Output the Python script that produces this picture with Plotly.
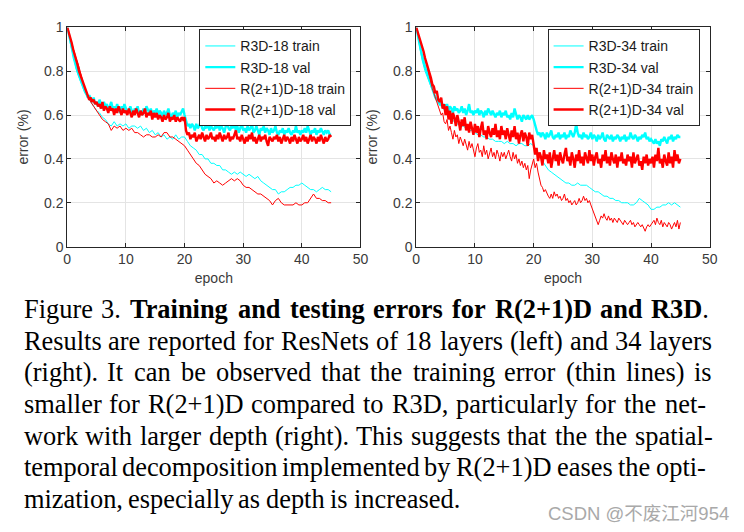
import plotly.graph_objects as go

# ---------------- data (error vs epoch) ----------------
TRAIN_STEP = 0.5    # epochs between samples of the "train" lists (except r21d34_train)
FINE_STEP = 0.25    # epochs between samples of the "val" lists and r21d34_train

r3d18_train = [1.00, 0.92, 0.86, 0.81, 0.77, 0.73, 0.70, 0.68, 0.66, 0.64, 0.62, 0.61, 0.59, 0.58, 0.56, 0.55,
               0.57, 0.55, 0.56, 0.55, 0.56, 0.54, 0.55, 0.55, 0.54, 0.55, 0.53, 0.54, 0.52, 0.53, 0.51, 0.52,
               0.50, 0.51, 0.49, 0.50, 0.49, 0.51, 0.49, 0.50, 0.50, 0.48, 0.46, 0.45, 0.44, 0.42, 0.42, 0.40,
               0.40, 0.38, 0.38, 0.37, 0.37, 0.35, 0.35, 0.34, 0.33, 0.34, 0.33, 0.34, 0.33, 0.32, 0.33, 0.32,
               0.31, 0.32, 0.30, 0.29, 0.28, 0.27, 0.26, 0.26, 0.24, 0.25, 0.25, 0.26, 0.27, 0.27, 0.28, 0.28,
               0.29, 0.28, 0.27, 0.26, 0.26, 0.25, 0.26, 0.27, 0.26, 0.26, 0.25]
r21d18_train = [1.00, 0.95, 0.90, 0.86, 0.82, 0.77, 0.72, 0.69, 0.66, 0.64, 0.62, 0.60, 0.58, 0.57, 0.56, 0.53,
                0.55, 0.54, 0.55, 0.53, 0.54, 0.53, 0.54, 0.52, 0.52, 0.51, 0.50, 0.51, 0.51, 0.50, 0.50, 0.51,
                0.50, 0.52, 0.52, 0.50, 0.50, 0.49, 0.48, 0.47, 0.46, 0.44, 0.42, 0.40, 0.38, 0.37, 0.35, 0.33,
                0.32, 0.31, 0.29, 0.30, 0.29, 0.28, 0.29, 0.30, 0.31, 0.30, 0.31, 0.30, 0.28, 0.27, 0.27, 0.26,
                0.25, 0.24, 0.24, 0.23, 0.22, 0.21, 0.19, 0.21, 0.22, 0.20, 0.19, 0.19, 0.19, 0.19, 0.20, 0.19,
                0.19, 0.20, 0.20, 0.22, 0.24, 0.22, 0.22, 0.21, 0.21, 0.20, 0.20]
r3d34_train = [1.00, 0.92, 0.85, 0.80, 0.76, 0.73, 0.70, 0.67, 0.65, 0.63, 0.62, 0.60, 0.58, 0.57, 0.56, 0.55,
               0.55, 0.54, 0.53, 0.53, 0.52, 0.51, 0.51, 0.50, 0.50, 0.49, 0.49, 0.48, 0.48, 0.48, 0.47, 0.48,
               0.47, 0.47, 0.46, 0.47, 0.47, 0.46, 0.46, 0.47, 0.46, 0.44, 0.42, 0.39, 0.37, 0.35, 0.34, 0.33,
               0.32, 0.31, 0.30, 0.29, 0.29, 0.28, 0.28, 0.29, 0.28, 0.28, 0.28, 0.27, 0.26, 0.25, 0.25, 0.24,
               0.23, 0.23, 0.22, 0.22, 0.21, 0.21, 0.20, 0.20, 0.20, 0.19, 0.19, 0.20, 0.22, 0.21, 0.20, 0.19,
               0.17, 0.17, 0.18, 0.18, 0.19, 0.19, 0.20, 0.19, 0.20, 0.19, 0.18]

r3d18_val = [1.00, 0.97, 0.94, 0.91, 0.88, 0.85, 0.83, 0.80, 0.78, 0.76, 0.74, 0.72, 0.71, 0.70, 0.68, 0.69, 0.67, 0.66, 0.68, 0.65,
             0.66, 0.64, 0.67, 0.65, 0.63, 0.66, 0.64, 0.65, 0.62, 0.64, 0.66, 0.63, 0.64, 0.62, 0.65, 0.63, 0.61, 0.64, 0.62, 0.65,
             0.63, 0.61, 0.62, 0.64, 0.62, 0.60, 0.63, 0.62, 0.64, 0.61, 0.62, 0.60, 0.63, 0.61, 0.64, 0.62, 0.61, 0.63, 0.60, 0.62,
             0.61, 0.63, 0.60, 0.62, 0.61, 0.59, 0.62, 0.60, 0.61, 0.63, 0.60, 0.59, 0.61, 0.60, 0.62, 0.59, 0.61, 0.60, 0.62, 0.63,
             0.60, 0.57, 0.55, 0.56, 0.54, 0.56, 0.55, 0.53, 0.56, 0.54, 0.55, 0.57, 0.54, 0.53, 0.55, 0.54, 0.56, 0.53, 0.55, 0.54,
             0.53, 0.55, 0.54, 0.56, 0.53, 0.55, 0.54, 0.52, 0.55, 0.57, 0.54, 0.53, 0.55, 0.54, 0.56, 0.53, 0.55, 0.52, 0.54, 0.56,
             0.53, 0.54, 0.52, 0.55, 0.53, 0.54, 0.56, 0.52, 0.53, 0.55, 0.53, 0.51, 0.54, 0.53, 0.55, 0.52, 0.54, 0.53, 0.51, 0.54,
             0.52, 0.53, 0.55, 0.52, 0.51, 0.53, 0.52, 0.54, 0.51, 0.53, 0.52, 0.54, 0.52, 0.51, 0.53, 0.52, 0.55, 0.52, 0.53, 0.51,
             0.53, 0.52, 0.54, 0.52, 0.55, 0.53, 0.51, 0.53, 0.52, 0.54, 0.51, 0.53, 0.52, 0.54, 0.52, 0.51, 0.53, 0.52, 0.53, 0.51,
             0.51]
r21d18_val = [1.00, 0.98, 0.95, 0.93, 0.90, 0.88, 0.86, 0.83, 0.80, 0.78, 0.76, 0.74, 0.72, 0.70, 0.69, 0.67, 0.68, 0.66, 0.67, 0.65,
              0.66, 0.64, 0.65, 0.63, 0.66, 0.62, 0.64, 0.63, 0.61, 0.64, 0.62, 0.63, 0.60, 0.63, 0.61, 0.64, 0.62, 0.60, 0.63, 0.61,
              0.62, 0.60, 0.63, 0.61, 0.59, 0.62, 0.60, 0.63, 0.61, 0.59, 0.62, 0.60, 0.61, 0.63, 0.59, 0.61, 0.60, 0.62, 0.58, 0.61,
              0.59, 0.61, 0.58, 0.60, 0.59, 0.57, 0.60, 0.58, 0.59, 0.61, 0.57, 0.59, 0.58, 0.60, 0.57, 0.59, 0.58, 0.57, 0.59, 0.58,
              0.59, 0.53, 0.51, 0.52, 0.49, 0.51, 0.50, 0.52, 0.48, 0.50, 0.51, 0.49, 0.52, 0.50, 0.48, 0.51, 0.49, 0.50, 0.52, 0.49,
              0.50, 0.48, 0.51, 0.49, 0.52, 0.50, 0.48, 0.51, 0.49, 0.50, 0.52, 0.48, 0.50, 0.49, 0.51, 0.53, 0.49, 0.50, 0.48, 0.51,
              0.49, 0.47, 0.50, 0.48, 0.51, 0.49, 0.52, 0.48, 0.50, 0.47, 0.49, 0.51, 0.48, 0.50, 0.49, 0.51, 0.48, 0.46, 0.50, 0.49,
              0.48, 0.50, 0.49, 0.51, 0.48, 0.50, 0.47, 0.49, 0.51, 0.48, 0.50, 0.49, 0.47, 0.50, 0.48, 0.51, 0.49, 0.47, 0.50, 0.48,
              0.49, 0.51, 0.48, 0.50, 0.47, 0.49, 0.51, 0.48, 0.50, 0.49, 0.47, 0.50, 0.48, 0.51, 0.49, 0.47, 0.50, 0.48, 0.49, 0.51,
              0.50]
r3d34_val = [1.00, 0.96, 0.93, 0.90, 0.87, 0.84, 0.82, 0.80, 0.78, 0.75, 0.73, 0.71, 0.70, 0.68, 0.67, 0.66, 0.65, 0.66, 0.64, 0.65,
             0.63, 0.65, 0.62, 0.64, 0.63, 0.61, 0.64, 0.62, 0.63, 0.61, 0.62, 0.64, 0.61, 0.63, 0.60, 0.62, 0.65, 0.61, 0.62, 0.60,
             0.62, 0.61, 0.63, 0.60, 0.62, 0.61, 0.59, 0.62, 0.60, 0.63, 0.61, 0.60, 0.62, 0.60, 0.59, 0.61, 0.60, 0.62, 0.59, 0.61,
             0.60, 0.62, 0.59, 0.60, 0.58, 0.61, 0.59, 0.63, 0.60, 0.58, 0.60, 0.59, 0.57, 0.60, 0.59, 0.58, 0.60, 0.58, 0.59, 0.60,
             0.58, 0.55, 0.53, 0.51, 0.52, 0.50, 0.52, 0.51, 0.49, 0.52, 0.50, 0.51, 0.53, 0.50, 0.49, 0.51, 0.50, 0.52, 0.49, 0.51,
             0.50, 0.52, 0.49, 0.51, 0.50, 0.53, 0.51, 0.50, 0.52, 0.56, 0.52, 0.50, 0.51, 0.49, 0.52, 0.50, 0.51, 0.49, 0.50, 0.52,
             0.49, 0.51, 0.50, 0.48, 0.51, 0.49, 0.50, 0.52, 0.49, 0.48, 0.51, 0.50, 0.49, 0.51, 0.48, 0.50, 0.49, 0.51, 0.50, 0.48,
             0.50, 0.49, 0.51, 0.48, 0.50, 0.49, 0.52, 0.50, 0.49, 0.51, 0.50, 0.48, 0.50, 0.49, 0.51, 0.50, 0.52, 0.49, 0.50, 0.48,
             0.49, 0.48, 0.47, 0.49, 0.47, 0.48, 0.46, 0.49, 0.48, 0.50, 0.48, 0.47, 0.50, 0.49, 0.51, 0.48, 0.50, 0.49, 0.51, 0.50,
             0.50]
r21d34_val = [1.00, 0.98, 0.96, 0.93, 0.91, 0.89, 0.86, 0.84, 0.82, 0.79, 0.77, 0.74, 0.73, 0.70, 0.71, 0.67, 0.66, 0.68, 0.63, 0.65,
              0.60, 0.64, 0.58, 0.62, 0.56, 0.61, 0.59, 0.55, 0.60, 0.57, 0.53, 0.58, 0.55, 0.59, 0.53, 0.56, 0.52, 0.57, 0.54, 0.51,
              0.56, 0.52, 0.55, 0.50, 0.54, 0.57, 0.51, 0.53, 0.49, 0.55, 0.52, 0.50, 0.54, 0.51, 0.56, 0.50, 0.53, 0.49, 0.55, 0.51,
              0.53, 0.49, 0.54, 0.51, 0.48, 0.53, 0.50, 0.55, 0.49, 0.52, 0.47, 0.51, 0.53, 0.48, 0.52, 0.50, 0.46, 0.52, 0.49, 0.51,
              0.47, 0.42, 0.45, 0.39, 0.43, 0.41, 0.37, 0.44, 0.40, 0.42, 0.38, 0.43, 0.36, 0.41, 0.44, 0.39, 0.42, 0.37, 0.43, 0.40,
              0.38, 0.42, 0.45, 0.39, 0.41, 0.37, 0.43, 0.40, 0.36, 0.42, 0.39, 0.44, 0.38, 0.41, 0.37, 0.43, 0.40, 0.38, 0.44, 0.39,
              0.42, 0.37, 0.41, 0.43, 0.38, 0.40, 0.36, 0.42, 0.39, 0.44, 0.38, 0.41, 0.37, 0.43, 0.40, 0.38, 0.42, 0.36, 0.41, 0.39,
              0.43, 0.38, 0.40, 0.37, 0.42, 0.39, 0.41, 0.36, 0.43, 0.38, 0.40, 0.42, 0.37, 0.39, 0.35, 0.41, 0.38, 0.42, 0.37, 0.40,
              0.38, 0.41, 0.36, 0.42, 0.39, 0.45, 0.38, 0.40, 0.36, 0.42, 0.39, 0.37, 0.43, 0.38, 0.41, 0.36, 0.44, 0.39, 0.42, 0.38,
              0.40]
r21d34_train = [1.00, 0.98, 0.96, 0.94, 0.92, 0.89, 0.86, 0.83, 0.80, 0.77, 0.75, 0.72, 0.70, 0.68, 0.66, 0.64, 0.62, 0.60, 0.61, 0.57,
                0.56, 0.58, 0.53, 0.55, 0.52, 0.49, 0.53, 0.50, 0.51, 0.47, 0.50, 0.48, 0.46, 0.49, 0.47, 0.44, 0.48, 0.45, 0.47, 0.43,
                0.41, 0.45, 0.47, 0.43, 0.44, 0.41, 0.46, 0.42, 0.44, 0.40, 0.43, 0.45, 0.41, 0.43, 0.40, 0.44, 0.42, 0.39, 0.43, 0.41,
                0.43, 0.40, 0.42, 0.44, 0.41, 0.39, 0.43, 0.40, 0.42, 0.38, 0.40, 0.37, 0.39, 0.36, 0.38, 0.35, 0.37, 0.31, 0.35, 0.38,
                0.40, 0.36, 0.38, 0.34, 0.31, 0.28, 0.27, 0.25, 0.26, 0.24, 0.23, 0.22, 0.24, 0.22, 0.25, 0.23, 0.24, 0.22, 0.23, 0.21,
                0.22, 0.24, 0.21, 0.22, 0.20, 0.21, 0.19, 0.20, 0.21, 0.19, 0.20, 0.22, 0.20, 0.21, 0.23, 0.21, 0.22, 0.20, 0.21, 0.19,
                0.17, 0.15, 0.13, 0.12, 0.10, 0.12, 0.14, 0.13, 0.15, 0.13, 0.12, 0.14, 0.12, 0.13, 0.11, 0.13, 0.12, 0.11, 0.13, 0.12,
                0.11, 0.10, 0.12, 0.11, 0.10, 0.11, 0.12, 0.10, 0.11, 0.09, 0.10, 0.11, 0.10, 0.09, 0.10, 0.08, 0.07, 0.09, 0.10, 0.09,
                0.10, 0.11, 0.12, 0.10, 0.13, 0.11, 0.10, 0.12, 0.09, 0.11, 0.10, 0.09, 0.11, 0.10, 0.08, 0.10, 0.11, 0.09, 0.12, 0.08,
                0.11]

x_ticks = [0, 10, 20, 30, 40, 50]
y_ticks = [0, 0.2, 0.4, 0.6, 0.8, 1]
y_tick_labels = ["0", "0.2", "0.4", "0.6", "0.8", "1"]

caption_lines = [
    "Figure 3. **Training and testing errors for R(2+1)D and R3D**.",
    "Results are reported for ResNets of 18 layers (left) and 34 layers",
    "(right). It can be observed that the training error (thin lines) is",
    "smaller for R(2+1)D compared to R3D, particularly for the net-",
    "work with larger depth (right). This suggests that the the spatial-",
    "temporal decomposition implemented by R(2+1)D eases the opti-",
    "mization, especially as depth is increased.",
]
watermark = "CSDN @不废江河954"

# ---------------- figure ----------------
W, H = 744, 532
CYAN, RED = "#00FFFF", "#FF0000"


def xs(vals, step):
    return [i * step for i in range(len(vals))]


fig = go.Figure()
panels = [
    ("18", (r3d18_train, TRAIN_STEP), (r3d18_val, FINE_STEP), (r21d18_train, TRAIN_STEP),
     (r21d18_val, FINE_STEP), "x", "y", "legend"),
    ("34", (r3d34_train, TRAIN_STEP), (r3d34_val, FINE_STEP), (r21d34_train, FINE_STEP),
     (r21d34_val, FINE_STEP), "x2", "y2", "legend2"),
]
for depth, a_tr, a_va, b_tr, b_va, xa, ya, lg in panels:
    for name, (vals, step), color, width in [
        (f"R3D-{depth} train", a_tr, CYAN, 1.0),
        (f"R3D-{depth} val", a_va, CYAN, 2.4),
        (f"R(2+1)D-{depth} train", b_tr, RED, 1.0),
        (f"R(2+1)D-{depth} val", b_va, RED, 2.4),
    ]:
        fig.add_trace(go.Scatter(x=xs(vals, step), y=vals, mode="lines", name=name,
                                 line=dict(color=color, width=width),
                                 xaxis=xa, yaxis=ya, legend=lg))

AX_COL = "#262626"
TICK_FONT = dict(family="Liberation Sans, Arial, sans-serif", size=14, color="#3a3a3a")
common_x = dict(range=[0, 50], tickvals=x_ticks, ticks="inside", ticklen=4, tickcolor=AX_COL,
                showline=True, linecolor=AX_COL, linewidth=1, mirror="ticks", showgrid=True,
                gridcolor="#e4e4e4", gridwidth=1, zeroline=False, tickfont=TICK_FONT,
                title=dict(text="epoch", font=TICK_FONT, standoff=6))
common_y = dict(range=[0, 1], tickvals=y_ticks, ticktext=y_tick_labels, ticks="inside", ticklen=4,
                tickcolor=AX_COL, showline=True, linecolor=AX_COL, linewidth=1, mirror="ticks",
                showgrid=True, gridcolor="#e4e4e4", gridwidth=1, zeroline=False, tickfont=TICK_FONT,
                title=dict(text="error (%)", font=TICK_FONT, standoff=12))

y_dom = [1 - 246 / H, 1 - 20 / H]
fig.update_layout(
    width=W, height=H, margin=dict(l=0, r=0, t=0, b=0),
    paper_bgcolor="white", plot_bgcolor="white",
    xaxis=dict(domain=[64.3 / W, 362.3 / W], anchor="y", **common_x),
    yaxis=dict(domain=y_dom, anchor="x", **common_y),
    xaxis2=dict(domain=[419 / W, 717.3 / W], anchor="y2", **common_x),
    yaxis2=dict(domain=y_dom, anchor="x2", **common_y),
)
leg_common = dict(xanchor="right", yanchor="top", y=1 - 22 / H, bgcolor="white",
                  bordercolor=AX_COL, borderwidth=1, tracegroupgap=0, itemwidth=30,
                  font=dict(family="Liberation Sans, Arial, sans-serif", size=14, color="#1a1a1a"))
fig.update_layout(legend=dict(x=353 / W, **leg_common), legend2=dict(x=707 / W, **leg_common))

# ---------------- caption (justified, word by word) ----------------
TR = {' ': 250, '(': 333, ')': 333, '+': 564, ',': 250, '-': 333, '.': 250,
      **{d: 500 for d in "0123456789"},
      'D': 722, 'F': 556, 'I': 333, 'N': 722, 'R': 667, 'T': 611,
      'a': 444, 'b': 500, 'c': 444, 'd': 500, 'e': 444, 'f': 333, 'g': 500, 'h': 500, 'i': 278,
      'j': 278, 'k': 500, 'l': 278, 'm': 778, 'n': 500, 'o': 500, 'p': 500, 'q': 500, 'r': 333,
      's': 389, 't': 278, 'u': 500, 'v': 500, 'w': 722, 'x': 500, 'y': 500, 'z': 444}
TB = {' ': 250, '(': 333, ')': 333, '+': 570, '.': 250, **{d: 500 for d in "0123456789"},
      'D': 722, 'R': 722, 'T': 667,
      'a': 500, 'd': 556, 'e': 444, 'f': 333, 'g': 500, 'i': 278, 'n': 556, 'o': 500, 'r': 444,
      's': 389, 't': 333}
FS = 26.4
LEFT = 20.0
RIGHTS = [716, 719, 719, 713, 719, 713, None]
BASE0, LSTEP = 319.5, 32.6

bold = False
for li, line in enumerate(caption_lines):
    words = []
    for raw in line.split(" "):
        segs = raw.split("**")
        html, wpx = "", 0.0
        for si, seg in enumerate(segs):
            if si > 0:
                bold = not bold
            if not seg:
                continue
            table = TB if bold else TR
            wpx += sum(table.get(c, 500) for c in seg) / 1000 * FS
            html += f"<b>{seg}</b>" if bold else seg
        words.append((html, wpx))
    natural = sum(w for _, w in words)
    if RIGHTS[li] is None:
        gap = 0.25 * FS
    else:
        gap = (RIGHTS[li] - LEFT - natural) / (len(words) - 1)
    xcur = LEFT
    ycen = BASE0 + LSTEP * li - 0.3375 * FS
    for html, wpx in words:
        fig.add_annotation(x=xcur / W, y=1 - ycen / H, xref="paper", yref="paper", text=html,
                           showarrow=False, xanchor="left", yanchor="middle", borderpad=0,
                           borderwidth=0,
                           font=dict(family="Liberation Serif, Times New Roman, serif", size=FS,
                                     color="black"))
        xcur += wpx + gap

fig.add_annotation(x=737 / W, y=1 - 521 / H, xref="paper", yref="paper", text=watermark,
                   showarrow=False, xanchor="right", yanchor="middle", borderpad=0, borderwidth=0,
                   font=dict(family="Liberation Sans, Noto Sans CJK SC, sans-serif", size=18.5,
                             color="#a9a9a9"))

fig.write_html("out.html")
